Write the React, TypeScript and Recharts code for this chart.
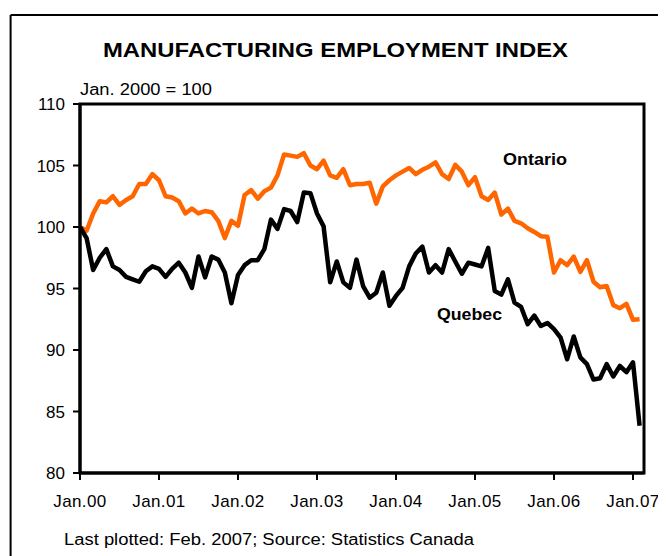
import { LineChart, Line, XAxis, YAxis, ReferenceArea } from "recharts";

const FONT = '"Liberation Sans", Arial, sans-serif';

// monthly index, Jan 2000 = 100, Jan 2000 .. Feb 2007
const ontario = [
  100.0, 99.7, 101.1, 102.1, 102.0, 102.5, 101.8, 102.2, 102.5, 103.5, 103.5, 104.3,
  103.8, 102.5, 102.4, 102.1, 101.1, 101.5, 101.1, 101.3, 101.2, 100.5, 99.1, 100.5,
  100.1, 102.6, 103.0, 102.3, 102.9, 103.2, 104.2, 105.9, 105.8, 105.7, 106.0, 105.0,
  104.7, 105.4, 104.2, 104.0, 104.7, 103.4, 103.5, 103.5, 103.6, 101.9, 103.3, 103.8,
  104.2, 104.5, 104.8, 104.3, 104.65, 104.9, 105.25, 104.3, 103.9, 105.05, 104.5, 103.4,
  104.05, 102.5, 102.2, 102.8, 101.0, 101.5, 100.5, 100.3, 99.9, 99.6, 99.25, 99.2,
  96.3, 97.3, 96.9, 97.6, 96.35, 97.3, 95.55, 95.1, 95.2, 93.65, 93.4, 93.75,
  92.45, 92.5,
];

const quebec = [
  100.0, 99.1, 96.5, 97.5, 98.2, 96.8, 96.5, 95.95, 95.75, 95.55, 96.4, 96.8,
  96.6, 95.95, 96.6, 97.1, 96.3, 95.05, 97.6, 95.9, 97.6, 97.35, 96.3, 93.8,
  96.1, 96.9, 97.3, 97.3, 98.2, 100.6, 99.85, 101.45, 101.3, 100.4, 102.8, 102.75,
  101.1, 100.05, 95.5, 97.2, 95.5, 95.05, 97.35, 95.2, 94.25, 94.65, 96.3, 93.6,
  94.4, 95.05, 96.8, 97.85, 98.4, 96.3, 96.9, 96.3, 98.2, 97.2, 96.2, 97.1,
  96.95, 96.8, 98.3, 94.8, 94.5, 95.75, 93.85, 93.5, 92.1, 92.8, 91.95, 92.2,
  91.7, 91.0, 89.25, 91.1, 89.4, 88.85, 87.6, 87.7, 88.85, 87.85, 88.7, 88.2,
  89.0, 83.85,
];

const xTicks = [0, 12, 24, 36, 48, 60, 72, 84];
const xLabels = ["Jan.00", "Jan.01", "Jan.02", "Jan.03", "Jan.04", "Jan.05", "Jan.06", "Jan.07"];
const yTicks = [80, 85, 90, 95, 100, 105, 110];

const data = ontario.map((v, i) => ({ m: i, ontario: v, quebec: quebec[i] }));

const X_MAX = 85.67;

export default function App() {
  return (
    <div style={{ position: "relative", width: 658, height: 548, fontFamily: FONT }}>
      <LineChart
        width={658}
        height={540}
        data={data}
        margin={{ top: 96, right: 22, bottom: 35, left: 12 }}
        style={{ position: "absolute", left: 0, top: 0, fontFamily: FONT }}
      >
        <XAxis
          dataKey="m"
          type="number"
          domain={[0, X_MAX]}
          allowDataOverflow
          ticks={xTicks}
          tickFormatter={(v: number) => xLabels[xTicks.indexOf(v)]}
          height={40}
          tickSize={7}
          tickMargin={15}
          axisLine={{ stroke: "#000", strokeWidth: 3 }}
          tickLine={{ stroke: "#000", strokeWidth: 2 }}
          tick={{ fill: "#000", fontSize: 17, letterSpacing: 0.4 }}
          interval={0}
        />
        <YAxis
          domain={[80, 110]}
          ticks={yTicks}
          width={60}
          tickSize={7}
          tickMargin={8}
          axisLine={{ stroke: "#000", strokeWidth: 3 }}
          tickLine={{ stroke: "#000", strokeWidth: 2 }}
          tick={{ fill: "#000", fontSize: 17 }}
          interval={0}
        />
        <ReferenceArea
          x1={0}
          x2={X_MAX}
          y1={80}
          y2={110}
          fill="none"
          fillOpacity={0}
          stroke="#000"
          strokeWidth={3}
          ifOverflow="visible"
        />
        <Line
          dataKey="ontario"
          stroke="#ff6600"
          strokeWidth={4.5}
          strokeLinejoin="round"
          dot={false}
          type="linear"
          isAnimationActive={false}
        />
        <Line
          dataKey="quebec"
          stroke="#000"
          strokeWidth={4.5}
          strokeLinejoin="round"
          dot={false}
          type="linear"
          isAnimationActive={false}
        />
      </LineChart>
      <svg
        width={658}
        height={548}
        style={{ position: "absolute", left: 0, top: 0, pointerEvents: "none", fontFamily: FONT }}
      >
        <line x1={2.6} y1={6.9} x2={650} y2={6.9} stroke="#000" strokeWidth={2} />
        <line x1={2.6} y1={6.9} x2={2.6} y2={548} stroke="#000" strokeWidth={2} />
        <text x={95} y={48.7} fontSize={20} fontWeight="bold" textLength={465} lengthAdjust="spacingAndGlyphs">
          MANUFACTURING EMPLOYMENT INDEX
        </text>
        <text x={72} y={87} fontSize={16} textLength={132} lengthAdjust="spacingAndGlyphs">
          Jan. 2000 = 100
        </text>
        <text x={495} y={157} fontSize={16} fontWeight="bold" textLength={64} lengthAdjust="spacingAndGlyphs">
          Ontario
        </text>
        <text x={429} y={312} fontSize={16} fontWeight="bold" textLength={65} lengthAdjust="spacingAndGlyphs">
          Quebec
        </text>
        <text x={56} y={537} fontSize={16} textLength={410} lengthAdjust="spacingAndGlyphs">
          Last plotted: Feb. 2007; Source: Statistics Canada
        </text>
      </svg>
    </div>
  );
}
